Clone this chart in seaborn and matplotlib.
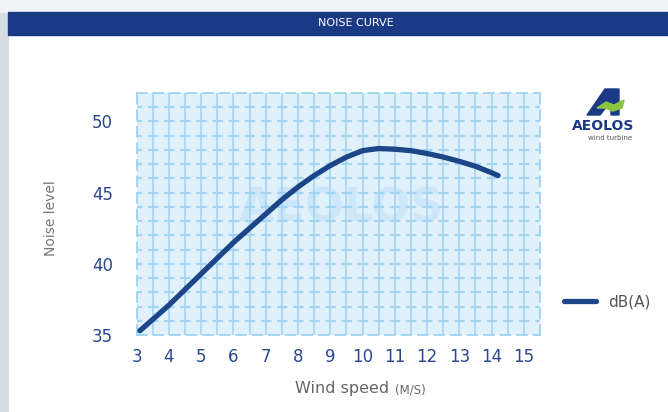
import matplotlib.pyplot as plt
import matplotlib.patches as mpatches
import seaborn as sns
import numpy as np

# noise curve
wind_speed = [3.1, 3.5, 4, 4.5, 5, 5.5, 6, 6.5, 7, 7.5, 8, 8.5, 9, 9.5, 10, 10.5, 11, 11.5, 12, 12.5, 13, 13.5, 14, 14.2]
noise_db = [35.3, 36.1, 37.1, 38.2, 39.3, 40.4, 41.5, 42.5, 43.5, 44.5, 45.4, 46.2, 46.9, 47.5, 47.95, 48.1, 48.05, 47.95, 47.75, 47.5, 47.2, 46.85, 46.4, 46.2]
x_ticks = list(range(3, 16))
y_ticks = [35, 40, 45, 50]

W, H = 668, 412
def fx(px): return px / W
def fy(py): return 1 - py / H

sns.set_theme(style="white")
plt.rcParams['font.family'] = ['DejaVu Sans']

fig = plt.figure(figsize=(6.68, 4.12), dpi=100, facecolor='white')

# frame decoration: shadow strips and header bar
fig.patches.append(mpatches.Rectangle((0, 0), fx(8), 1, transform=fig.transFigure,
                                      color='#d5dde1', zorder=0))
fig.patches.append(mpatches.Rectangle((0, fy(12)), 1, 12 / H, transform=fig.transFigure,
                                      color='#eef3f5', zorder=0))
fig.patches.append(mpatches.Rectangle((fx(8), fy(35)), 1, 23 / H, transform=fig.transFigure,
                                      color='#1b3a86', zorder=1))
fig.text(fx(356), fy(23.5), 'NOISE CURVE', color='white', fontsize=8,
         ha='center', va='center')

ax = fig.add_axes([fx(136.7), fy(335), fx(540) - fx(136.7), (335 - 93) / H])
ax.set_facecolor('#e0f1fc')

grid_c = '#a3d5f3'
hlw = 1.6
dash, gap = 4.7, 2.56
h_style = (dash / 2, (dash, gap))
for xv in np.arange(3.5, 15.5, 0.5):
    ax.axvline(xv, color=grid_c, lw=1.2, zorder=1)
for yv in range(36, 52):
    ax.axhline(yv, color=grid_c, lw=hlw, ls=h_style, zorder=1)
for s in ax.spines.values():
    s.set_color(grid_c)
    s.set_linewidth(1.4)
    s.set_linestyle((0, (5, 3.5)))

# watermark
ax.text(9.35, 43.85, 'AEOLOS', fontsize=33, fontweight='bold', color='#cce6fa',
        ha='center', va='center', zorder=0.5)

sns.lineplot(x=wind_speed, y=noise_db, ax=ax, color='#1d4689', linewidth=3.8,
             label='dB(A)', zorder=3)

ax.set_xlim(3, 15.5)
ax.set_ylim(35, 52)
ax.set_xticks(x_ticks)
ax.set_yticks(y_ticks)
ax.tick_params(axis='both', length=0, labelsize=12, labelcolor='#2a4890')
ax.tick_params(axis='x', pad=9)
ax.tick_params(axis='y', pad=17)
ax.set_xlabel('')
ax.set_ylabel('')

fig.text(fx(51), fy(218), 'Noise level', rotation=90, color='#777777',
         fontsize=10, ha='center', va='center')
fig.text(fx(389), fy(389), 'Wind speed', color='#666666', fontsize=11.5,
         ha='right', va='center')
fig.text(fx(395), fy(390), '(M/S)', color='#666666', fontsize=8.5,
         ha='left', va='center')

ax.legend(loc='center left', bbox_to_anchor=(fx(550), fy(302)),
          bbox_transform=fig.transFigure, frameon=False, fontsize=11,
          handlelength=2.1, labelcolor='#555555')

# logo
mark = [(587, 115), (605, 89), (619, 89), (619, 115), (611, 115), (611, 101), (600, 115)]
fig.patches.append(mpatches.Polygon([(fx(a), fy(b)) for a, b in mark], closed=True,
                                    transform=fig.transFigure, color='#1b3a86', zorder=2))
swoosh = [(597, 108), (606, 102), (614, 105), (624, 100), (622, 108), (613, 111), (605, 108)]
fig.patches.append(mpatches.Polygon([(fx(a), fy(b)) for a, b in swoosh], closed=True,
                                    transform=fig.transFigure, color='#8cc63f', zorder=3))
fig.text(fx(603), fy(126), 'AEOLOS', color='#1b3a86', fontsize=10, fontweight='bold',
         ha='center', va='center')
fig.text(fx(610), fy(137.5), 'wind turbine', color='#555555', fontsize=5,
         ha='center', va='center')

plt.savefig('out.png', dpi=100, facecolor='white')
